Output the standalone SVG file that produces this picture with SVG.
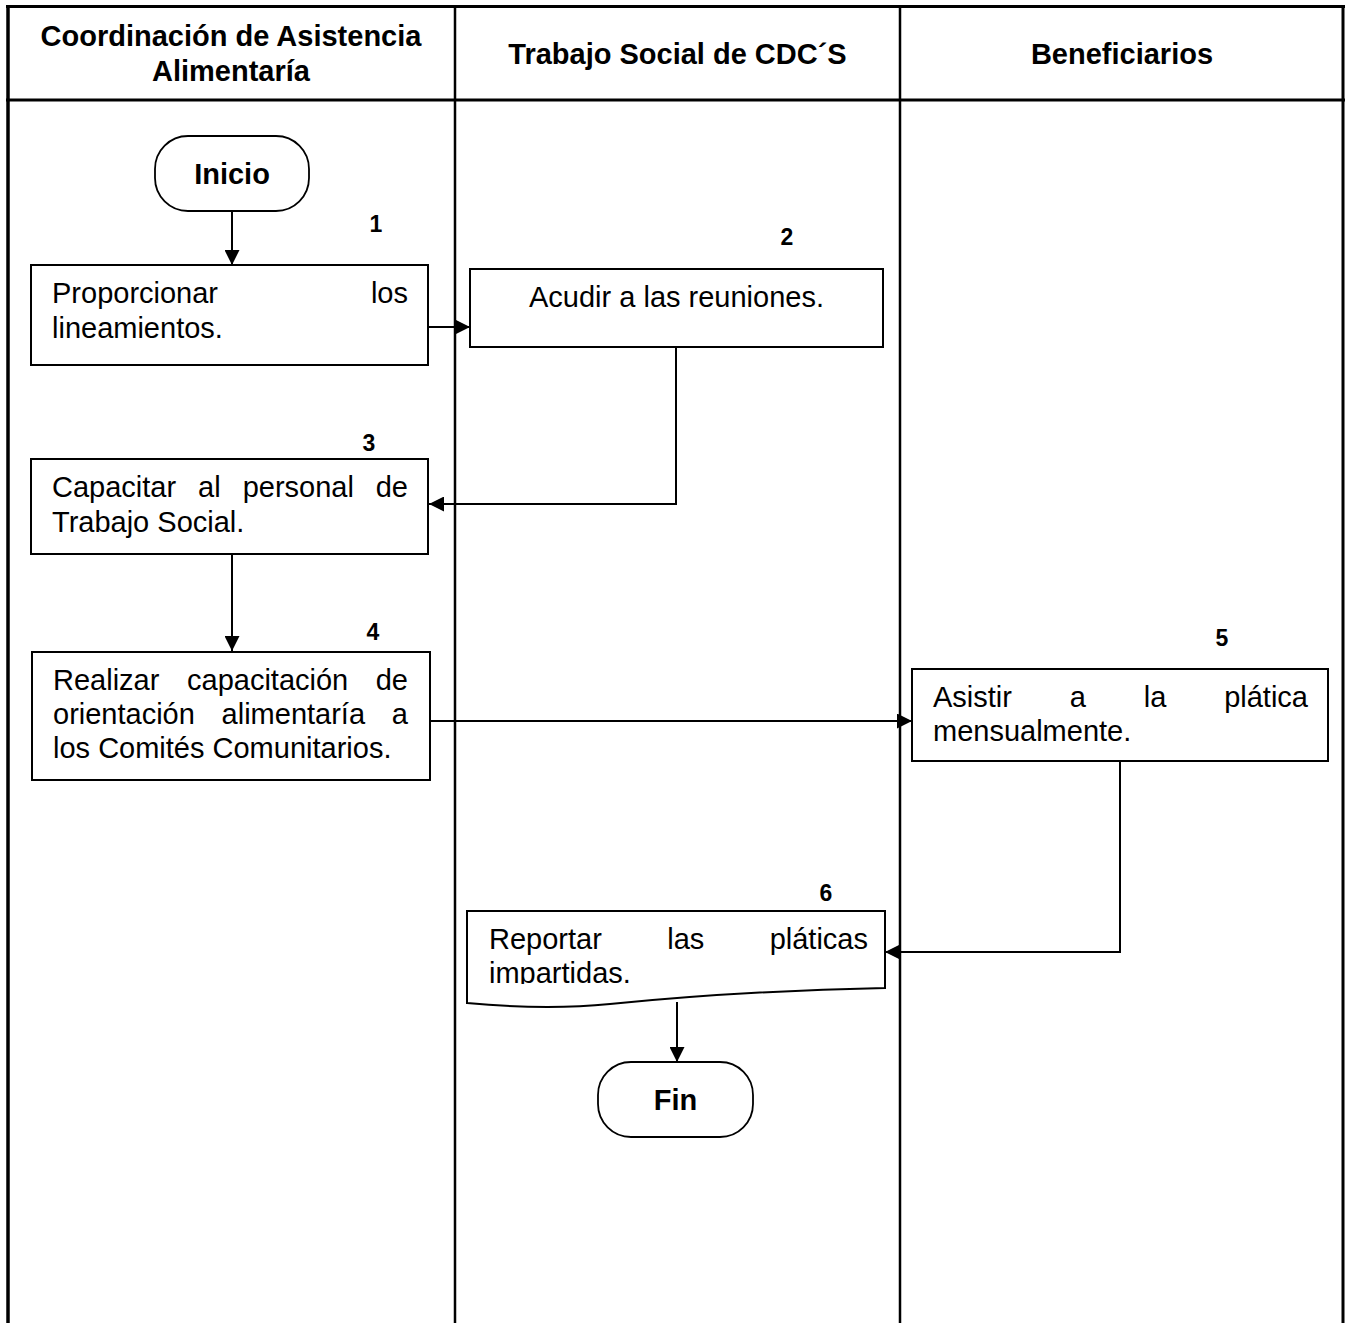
<svg xmlns="http://www.w3.org/2000/svg" width="1348" height="1323" viewBox="0 0 1348 1323">
<style>
.lane{stroke:#000;fill:none}
.box{fill:#fff;stroke:#000;stroke-width:2}
.term{fill:#fff;stroke:#000;stroke-width:1.8}
.t{font-family:"Liberation Sans",Arial,sans-serif;font-size:29px;fill:#000}
.b{font-weight:bold}
.n{font-family:"Liberation Sans",Arial,sans-serif;font-size:23px;font-weight:bold;fill:#000}
.c{fill:none;stroke:#000;stroke-width:2}
</style>
<defs>
<marker id="ah" markerUnits="userSpaceOnUse" markerWidth="15" markerHeight="15" refX="15" refY="7.5" orient="auto">
<path d="M0,0 L15,7.5 L0,15 Z" fill="#000"/>
</marker>
<clipPath id="clip6"><rect x="467" y="911" width="418" height="73"/></clipPath>
</defs>
<rect width="1348" height="1323" fill="#fff"/>
<g id="lanes">
<line class="lane" x1="8" y1="5" x2="8" y2="1323" stroke-width="3.5"/>
<line class="lane" x1="1343" y1="5" x2="1343" y2="1323" stroke-width="3"/>
<line class="lane" x1="6" y1="6.5" x2="1345" y2="6.5" stroke-width="3"/>
<line class="lane" x1="6" y1="100" x2="1345" y2="100" stroke-width="3"/>
<line class="lane" x1="455" y1="5" x2="455" y2="1323" stroke-width="2.5"/>
<line class="lane" x1="900" y1="5" x2="900" y2="1323" stroke-width="2.5"/>
<text class="t b" x="231" y="46" text-anchor="middle">Coordinación de Asistencia</text>
<text class="t b" x="231" y="80.5" text-anchor="middle">Alimentaría</text>
<text class="t b" x="677.5" y="64" text-anchor="middle">Trabajo Social de CDC´S</text>
<text class="t b" x="1122" y="64" text-anchor="middle">Beneficiarios</text>
</g>
<g id="connectors">
<path class="c" d="M232,211 V265" marker-end="url(#ah)"/>
<path class="c" d="M429,327 H470" marker-end="url(#ah)"/>
<path class="c" d="M676,347 V504 H429" marker-end="url(#ah)"/>
<path class="c" d="M232,554 V651" marker-end="url(#ah)"/>
<path class="c" d="M428,721 H912" marker-end="url(#ah)"/>
<path class="c" d="M1120,760 V952 H885" marker-end="url(#ah)"/>
<path class="c" d="M677,1002 V1062" marker-end="url(#ah)"/>
</g>
<g id="inicio">
<rect class="term" x="155" y="136" width="154" height="75" rx="33" ry="33"/>
<text class="t b" x="232" y="184" text-anchor="middle">Inicio</text>
</g>
<g id="step1">
<rect class="box" x="31" y="265" width="397" height="100"/>
<text class="n" x="376" y="232" text-anchor="middle">1</text>
<text class="t" x="52" y="303">Proporcionar</text>
<text class="t" x="408" y="303" text-anchor="end">los</text>
<text class="t" x="52" y="337.5">lineamientos.</text>
</g>
<g id="step2">
<rect class="box" x="470" y="269" width="413" height="78"/>
<text class="n" x="787" y="245" text-anchor="middle">2</text>
<text class="t" x="676.5" y="307" text-anchor="middle">Acudir a las reuniones.</text>
</g>
<g id="step3">
<rect class="box" x="31" y="459" width="397" height="95"/>
<text class="n" x="369" y="451" text-anchor="middle">3</text>
<text class="t" x="52" y="497">Capacitar</text>
<text class="t" x="198" y="497">al</text>
<text class="t" x="242.7" y="497">personal</text>
<text class="t" x="408" y="497" text-anchor="end">de</text>
<text class="t" x="52" y="531.5">Trabajo Social.</text>
</g>
<g id="step4">
<rect class="box" x="32" y="652" width="398" height="128"/>
<text class="n" x="373" y="640" text-anchor="middle">4</text>
<text class="t" x="53" y="690">Realizar</text>
<text class="t" x="187" y="690">capacitación</text>
<text class="t" x="408" y="690" text-anchor="end">de</text>
<text class="t" x="53" y="724">orientación</text>
<text class="t" x="221.6" y="724">alimentaría</text>
<text class="t" x="408" y="724" text-anchor="end">a</text>
<text class="t" x="53" y="758">los Comités Comunitarios.</text>
</g>
<g id="step5">
<rect class="box" x="912" y="669" width="416" height="92"/>
<text class="n" x="1222" y="646" text-anchor="middle">5</text>
<text class="t" x="933" y="707">Asistir</text>
<text class="t" x="1069.8" y="707">a</text>
<text class="t" x="1143.8" y="707">la</text>
<text class="t" x="1308" y="707" text-anchor="end">plática</text>
<text class="t" x="933" y="741">mensualmente.</text>
</g>
<g id="step6">
<path class="box" d="M467,911 H885 V988 C780,990 690,996 610,1004 C560,1009 510,1007 467,1003 Z"/>
<text class="n" x="826" y="901" text-anchor="middle">6</text>
<g clip-path="url(#clip6)">
<text class="t" x="489" y="949">Reportar</text>
<text class="t" x="667.2" y="949">las</text>
<text class="t" x="868" y="949" text-anchor="end">pláticas</text>
<text class="t" x="489" y="983">impartidas.</text>
</g>
</g>
<g id="fin">
<rect class="term" x="598" y="1062" width="155" height="75" rx="33" ry="33"/>
<text class="t b" x="675.5" y="1110" text-anchor="middle">Fin</text>
</g>
</svg>
